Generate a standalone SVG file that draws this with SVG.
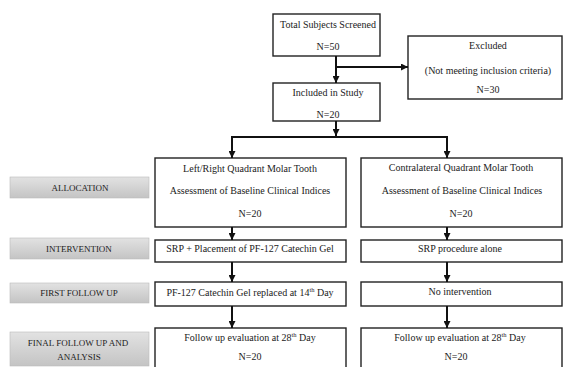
<svg xmlns="http://www.w3.org/2000/svg" width="565" height="367" viewBox="0 0 565 367" font-family="'Liberation Serif', 'Times New Roman', serif">
<defs>
<linearGradient id="g" x1="0" y1="0" x2="0" y2="1">
<stop offset="0" stop-color="#e2e2e2"/>
<stop offset="1" stop-color="#c4c4c4"/>
</linearGradient>
<marker id="ah" markerUnits="userSpaceOnUse" markerWidth="7" markerHeight="7" refX="7" refY="3.5" orient="auto">
<path d="M0,0 L7,3.5 L0,7 z" fill="#111"/>
</marker>
</defs>
<style>
.box{fill:#fff;stroke:#222;stroke-width:1.4}
.lab{fill:url(#g);stroke:#bbb;stroke-width:0.6}
text{font-family:'Liberation Serif','Times New Roman',serif;font-size:10px;fill:#222;text-anchor:middle}
.sm{font-size:9px}
.con{stroke:#111;stroke-width:2;fill:none}
.sup{font-size:6.5px}
</style>
<rect width="565" height="367" fill="#fff"/>

<g id="total">
<rect class="box" x="273" y="14" width="107" height="42"/>
<text x="328" y="28">Total Subjects Screened</text>
<text x="328" y="50">N=50</text>
</g>
<g id="excluded">
<rect class="box" x="408" y="36" width="154" height="63"/>
<text x="488" y="49">Excluded</text>
<text x="488" y="74">(Not meeting inclusion criteria)</text>
<text x="488" y="93">N=30</text>
</g>
<g id="included">
<rect class="box" x="273" y="83" width="107" height="38"/>
<text x="328" y="96">Included in Study</text>
<text x="328" y="118">N=20</text>
</g>

<g id="lab-allocation">
<rect class="lab" x="10" y="177" width="139" height="21"/>
<text class="sm" x="80" y="191">ALLOCATION</text>
</g>
<g id="lab-intervention">
<rect class="lab" x="10" y="238" width="139" height="21"/>
<text class="sm" x="79" y="252">INTERVENTION</text>
</g>
<g id="lab-first">
<rect class="lab" x="10" y="283" width="139" height="20"/>
<text class="sm" x="79" y="296">FIRST FOLLOW UP</text>
</g>
<g id="lab-final">
<rect class="lab" x="10" y="332" width="139" height="34"/>
<text class="sm" x="78" y="346">FINAL FOLLOW UP AND</text>
<text class="sm" x="79" y="360">ANALYSIS</text>
</g>

<g id="left-alloc">
<rect class="box" x="155" y="158" width="191" height="69"/>
<text x="250" y="172">Left/Right Quadrant Molar Tooth</text>
<text x="250" y="194">Assessment of Baseline Clinical Indices</text>
<text x="250" y="217">N=20</text>
</g>
<g id="right-alloc">
<rect class="box" x="361" y="158" width="201" height="69"/>
<text x="461" y="171">Contralateral Quadrant Molar Tooth</text>
<text x="462" y="194">Assessment of Baseline Clinical Indices</text>
<text x="461" y="217">N=20</text>
</g>

<g id="left-int">
<rect class="box" x="155" y="240" width="191" height="22"/>
<text x="250" y="252">SRP + Placement of PF-127 Catechin Gel</text>
</g>
<g id="right-int">
<rect class="box" x="361" y="240" width="201" height="22"/>
<text x="460" y="252">SRP procedure alone</text>
</g>

<g id="left-first">
<rect class="box" x="155" y="282" width="191" height="24"/>
<text x="250" y="296">PF-127 Catechin Gel replaced at 14<tspan class="sup" dy="-4">th</tspan><tspan dy="4"> Day</tspan></text>
</g>
<g id="right-first">
<rect class="box" x="361" y="282" width="201" height="24"/>
<text x="460" y="295">No intervention</text>
</g>

<g id="left-final">
<rect class="box" x="155" y="328" width="191" height="45"/>
<text x="250" y="341">Follow up evaluation at 28<tspan class="sup" dy="-4">th</tspan><tspan dy="4"> Day</tspan></text>
<text x="250" y="360">N=20</text>
</g>
<g id="right-final">
<rect class="box" x="361" y="328" width="201" height="45"/>
<text x="460" y="341">Follow up evaluation at 28<tspan class="sup" dy="-4">th</tspan><tspan dy="4"> Day</tspan></text>
<text x="456" y="360">N=20</text>
</g>

<g id="connectors">
<line class="con" x1="336" y1="56" x2="336" y2="83" marker-end="url(#ah)"/>
<line class="con" x1="336" y1="67" x2="408" y2="67" marker-end="url(#ah)"/>
<line class="con" x1="336" y1="121" x2="336" y2="136" marker-end="url(#ah)"/>
<polyline class="con" points="232,150 232,137 447,137 447,150"/>
<line class="con" x1="232" y1="137" x2="232" y2="158" marker-end="url(#ah)"/>
<line class="con" x1="447" y1="137" x2="447" y2="158" marker-end="url(#ah)"/>
<line class="con" x1="232" y1="227" x2="232" y2="240" marker-end="url(#ah)"/>
<line class="con" x1="232" y1="262" x2="232" y2="282" marker-end="url(#ah)"/>
<line class="con" x1="232" y1="306" x2="232" y2="328" marker-end="url(#ah)"/>
<line class="con" x1="447" y1="227" x2="447" y2="240" marker-end="url(#ah)"/>
<line class="con" x1="447" y1="262" x2="447" y2="282" marker-end="url(#ah)"/>
<line class="con" x1="447" y1="306" x2="447" y2="328" marker-end="url(#ah)"/>
</g>
</svg>
